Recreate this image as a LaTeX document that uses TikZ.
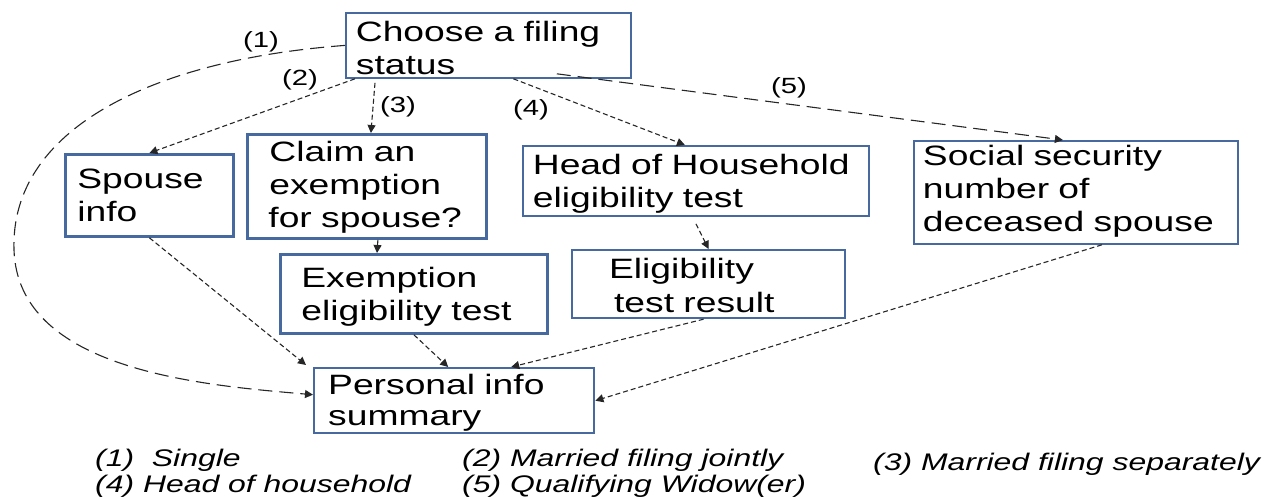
\documentclass[tikz,border=0pt]{standalone}
\usepackage{fontspec}
\newfontfamily\boxfont[FakeStretch=1.33]{Liberation Sans}
\usetikzlibrary{arrows.meta,calc}
\definecolor{boxblue}{RGB}{70,105,160}
\newcommand\indl[1]{\hspace*{#1}}
\begin{document}
\begin{tikzpicture}[x=1pt,y=-1pt,
  box/.style={draw=boxblue, line width=1.8pt, anchor=north west, align=left, inner sep=0pt,
              font=\boxfont\fontsize{28}{33}\selectfont},
  thickbox/.style={box, line width=2.8pt},
  conn/.style={draw=black!85, line width=1.1pt, dash pattern=on 5pt off 3pt,
               -{Triangle[length=8pt,width=8pt]}},
  longconn/.style={conn, dash pattern=on 14pt off 7pt},
  lbl/.style={font=\boxfont\fontsize{22}{24}\selectfont, inner sep=0pt},
  legend/.style={font=\boxfont\itshape\fontsize{24}{26}\selectfont, anchor=base west, inner sep=0pt}
]
\useasboundingbox (0,0) rectangle (1266,496);

% boxes
\node[box, text width=285pt, text height=29pt, text depth=36pt] (choose) at (345,12)
  {\indl{10pt}Choose a filing\\\indl{10pt}status};
\node[thickbox, text width=168pt, text height=34pt, text depth=48pt] (spouse) at (64,153)
  {\indl{12pt}Spouse\\\indl{12pt}info};
\node[thickbox, text width=239pt, text height=27pt, text depth=77pt] (claim) at (246,133)
  {\indl{22pt}Claim an\\\indl{22pt}exemption\\\indl{21pt}for spouse?};
\node[box, text width=346pt, text height=29pt, text depth=41pt] (head) at (522,145)
  {\indl{10pt}Head of Household\\\indl{10pt}eligibility test};
\node[box, text width=324pt, text height=25pt, text depth=78pt] (social) at (913,140)
  {\indl{9pt}Social security\\\indl{9pt}number of\\\indl{9pt}deceased spouse};
\node[thickbox, text width=267pt, text height=33pt, text depth=46pt] (exemption) at (279,253)
  {\indl{21pt}Exemption\\\indl{21pt}eligibility test};
\node[box, line width=2.2pt, text width=273pt, text height=28pt, text depth=40pt,
      font=\boxfont\fontsize{28}{34}\selectfont] (elig) at (571,249)
  {\indl{37pt}Eligibility\\\indl{42pt}test result};
\node[box, line width=2.4pt, text width=280pt, text height=26pt, text depth=39pt,
      font=\boxfont\fontsize{28}{31}\selectfont] (personal) at (313,367)
  {\indl{14pt}Personal info\\\indl{14pt}summary};

% connectors from the filing status
\coordinate (bend1) at (14,250);
\draw[longconn] (choose.west) .. controls (150,60) and (10,130) .. (bend1)
  .. controls (18,370) and (200,385) .. ($(personal.west)+(0,-6)$);
\draw[conn] ($(choose.south west)+(10,0)$) -- (spouse.north);
\draw[conn] ($(choose.south west)+(30,4)$) -- ($(claim.north)+(4,0)$);
\draw[conn] ($(choose.south)+(25,0)$) -- ($(head.north)+(-11,0)$);
\draw[longconn] ($(choose.south east)+(-75,-5)$) -- ($(social.north)+(-13,0)$);

% other connectors
\draw[conn] ($(claim.south)+(11,0)$) -- ($(exemption.north west)+(98,0)$);
\draw[conn] ($(head.south)+(0,7)$) -- (elig.north);
\draw[conn] (spouse.south) -- ($(personal.north west)+(-7,-2)$);
\draw[conn] (exemption.south) -- ($(personal.north)+(-6,0)$);
\draw[conn] ($(elig.south)+(-5,0)$) -- ($(personal.north)+(57,0)$);
\draw[conn] ($(social.south)+(26,0)$) -- (personal.east);

% edge labels
\node[lbl] (l1) at (261,42) {(1)};
\node[lbl] (l2) at (300,80) {(2)};
\node[lbl] (l3) at (398,107) {(3)};
\node[lbl] (l4) at (531,110) {(4)};
\node[lbl] (l5) at (789,88) {(5)};

% legend
\node[legend] (lg1) at (95,466) {(1)\ \ Single};
\node[legend] (lg2) at (462,466) {(2) Married filing jointly};
\node[legend] (lg3) at (873,470) {(3) Married filing separately};
\node[legend] (lg4) at (95,492) {(4) Head of household};
\node[legend] (lg5) at (462,492) {(5) Qualifying Widow(er)};
\end{tikzpicture}
\end{document}
